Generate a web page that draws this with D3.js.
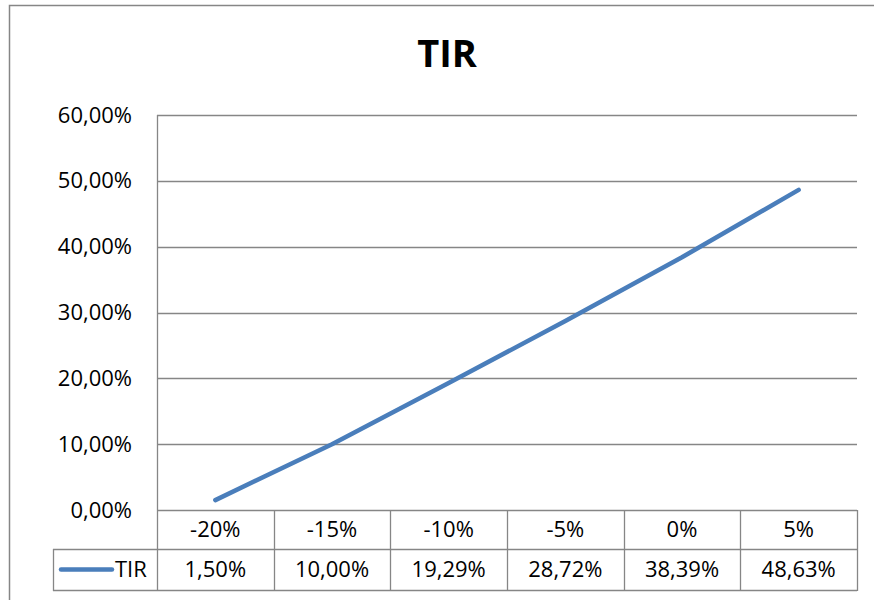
<!DOCTYPE html>
<html>
<head>
<meta charset="utf-8">
<script src="https://cdn.jsdelivr.net/npm/d3@7"></script>
<style>
  html, body { margin: 0; padding: 0; background: #fff; }
  svg { display: block; font-family: "Open Sans", sans-serif; }
</style>
</head>
<body>
<div id="chart"></div>
<script>
const categories = ['-20%', '-15%', '-10%', '-5%', '0%', '5%'];
const tir = [0.015, 0.10, 0.1929, 0.2872, 0.3839, 0.4863];
const tirLabels = ['1,50%', '10,00%', '19,29%', '28,72%', '38,39%', '48,63%'];
const yTicks = [0, 0.1, 0.2, 0.3, 0.4, 0.5, 0.6];
const seriesName = 'TIR';

const width = 874, height = 600;
const margin = { top: 115, right: 17, bottom: 90, left: 157 };
const rowH = 40; // data table row height
const legendLeft = 53;
const grid = '#868686';
const blue = '#4A7EBB';

const fmtPct = d3.format('.2f');
const yLabel = v => fmtPct(v * 100).replace('.', ',') + '%';

const svg = d3.select('#chart').append('svg')
  .attr('width', width).attr('height', height);

// outer chart frame
svg.append('rect')
  .attr('x', 9.5).attr('y', 5.5)
  .attr('width', width + 10).attr('height', height + 10)
  .attr('fill', 'none').attr('stroke', grid).attr('stroke-width', 1.5);

const x = d3.scaleBand().domain(categories).range([margin.left, width - margin.right]);
const y = d3.scaleLinear().domain([0, 0.6]).range([height - margin.bottom, margin.top]);
const y0 = y(0);

// title
svg.append('text')
  .attr('x', 447).attr('y', 67)
  .attr('text-anchor', 'middle')
  .style('font-size', '38px').style('font-weight', 'bold')
  .text('TIR');

// gridlines
svg.append('g')
  .selectAll('line')
  .data(yTicks.filter(d => d > 0))
  .join('line')
  .attr('x1', margin.left).attr('x2', width - margin.right)
  .attr('y1', d => Math.round(y(d)) + 0.5).attr('y2', d => Math.round(y(d)) + 0.5)
  .attr('stroke', grid).attr('stroke-width', 1.3);

// y axis labels
const yAxis = d3.axisLeft(y).tickValues(yTicks).tickFormat(yLabel).tickSize(0).tickPadding(25);
svg.append('g')
  .attr('transform', `translate(${margin.left},0)`)
  .call(yAxis)
  .call(g => g.select('.domain').remove())
  .call(g => g.selectAll('text')
    .attr('fill', '#000')
    .style('font-size', '22px')
    .style('font-family', '"Open Sans", sans-serif'));

// data table
const table = svg.append('g').attr('stroke', grid).attr('stroke-width', 1.3).attr('fill', 'none');
const r1 = y0, r2 = y0 + rowH - 1, r3 = y0 + 2 * rowH;
table.append('line').attr('x1', margin.left).attr('x2', width - margin.right).attr('y1', r1 + 0.5).attr('y2', r1 + 0.5);
table.append('line').attr('x1', legendLeft).attr('x2', width - margin.right).attr('y1', r2 + 0.5).attr('y2', r2 + 0.5);
table.append('line').attr('x1', legendLeft).attr('x2', width - margin.right).attr('y1', r3 + 0.5).attr('y2', r3 + 0.5);
// y axis line
table.append('line').attr('x1', margin.left + 0.5).attr('x2', margin.left + 0.5).attr('y1', margin.top).attr('y2', r3);
table.append('line').attr('x1', legendLeft + 0.5).attr('x2', legendLeft + 0.5).attr('y1', r2).attr('y2', r3 + 1);
table.selectAll('line.col')
  .data(categories)
  .join('line')
  .attr('class', 'col')
  .attr('x1', d => Math.round(x(d) + x.bandwidth()) + 0.5)
  .attr('x2', d => Math.round(x(d) + x.bandwidth()) + 0.5)
  .attr('y1', r1).attr('y2', r3 + 1);

const cell = svg.append('g').style('font-size', '22px').attr('text-anchor', 'middle');
cell.selectAll('text.cat')
  .data(categories)
  .join('text')
  .attr('class', 'cat')
  .attr('x', d => x(d) + x.bandwidth() / 2)
  .attr('y', (r1 + r2) / 2).attr('dy', '0.35em')
  .text(d => d);
cell.selectAll('text.val')
  .data(tirLabels)
  .join('text')
  .attr('class', 'val')
  .attr('x', (d, i) => x(categories[i]) + x.bandwidth() / 2)
  .attr('y', (r2 + r3) / 2).attr('dy', '0.35em')
  .text(d => d);

// legend key in table
svg.append('line')
  .attr('x1', 61).attr('x2', 112)
  .attr('y1', (r2 + r3) / 2).attr('y2', (r2 + r3) / 2)
  .attr('stroke', blue).attr('stroke-width', 4.5).attr('stroke-linecap', 'round');
svg.append('text')
  .attr('x', 115).attr('y', (r2 + r3) / 2).attr('dy', '0.35em')
  .style('font-size', '22px')
  .text(seriesName);

// series line
const line = d3.line()
  .x((d, i) => x(categories[i]) + x.bandwidth() / 2)
  .y(d => y(d));
svg.append('path')
  .datum(tir)
  .attr('d', line)
  .attr('fill', 'none')
  .attr('stroke', blue)
  .attr('stroke-width', 4.5)
  .attr('stroke-linecap', 'round')
  .attr('stroke-linejoin', 'round');
</script>
</body>
</html>
